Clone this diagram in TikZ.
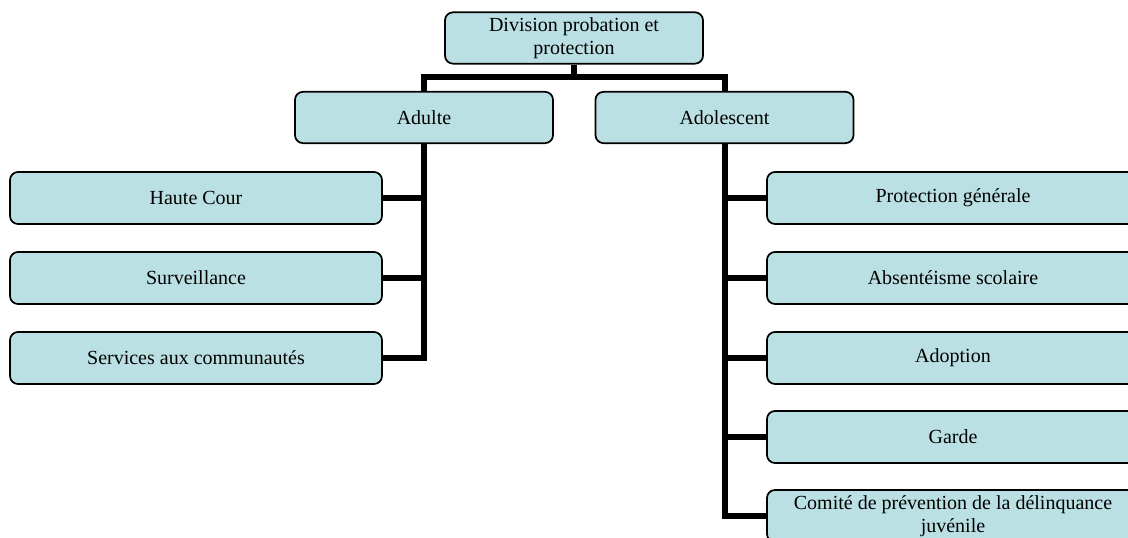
\documentclass[tikz,border=0pt]{standalone}
\usepackage{fontspec}
\setmainfont{Liberation Serif}
\begin{document}
\begin{tikzpicture}[x=0.75pt,y=-0.75pt,
  box/.style={draw=black, line width=1.3pt, fill=boxfill, rounded corners=6pt,
    align=center, inner sep=1pt, font=\fontsize{15}{17}\selectfont},
  midbox/.style={box, minimum width=193.5pt, minimum height=38.5pt},
  leafbox/.style={box, minimum width=279pt, minimum height=39pt},
  conn/.style={draw=black, line width=4.5pt, line join=miter}]
\definecolor{boxfill}{RGB}{187,224,227}
\useasboundingbox (0,0) rectangle (1128,538);
\clip (0,0) rectangle (1128,538);
\coordinate (barc) at (574,77);
% nodes
\node[midbox] (top) at (574,38) {Division probation et\\protection};
\node[midbox] (adulte) at (424,117.5) {Adulte};
\node[midbox] (adol) at (724.5,117.5) {Adolescent};
\node[leafbox] (haute) at (196,198) {Haute Cour};
\node[leafbox] (surv) at (196,278) {Surveillance};
\node[leafbox] (serv) at (196,358) {Services aux communautés};
\node[leafbox] (prot) at (953,198) {Protection générale};
\node[leafbox] (abs) at (953,278) {Absentéisme scolaire};
\node[leafbox] (adop) at (953,358) {Adoption};
\node[leafbox] (garde) at (953,437) {Garde};
\node[leafbox] (comite) at (953,516) {Comité de prévention de la délinquance\\juvénile};
% connectors
\draw[conn] (top.south) -- (barc);
\draw[conn] (adulte.north) |- (barc) -| (adol.north);
\draw[conn] (adulte.south) |- (serv.east);
\draw[conn] (haute.east) -- (haute.east -| adulte.south);
\draw[conn] (surv.east) -- (surv.east -| adulte.south);
\draw[conn] (adol.south) |- (comite.west);
\draw[conn] (prot.west) -- (prot.west -| adol.south);
\draw[conn] (abs.west) -- (abs.west -| adol.south);
\draw[conn] (adop.west) -- (adop.west -| adol.south);
\draw[conn] (garde.west) -- (garde.west -| adol.south);
\end{tikzpicture}
\end{document}
